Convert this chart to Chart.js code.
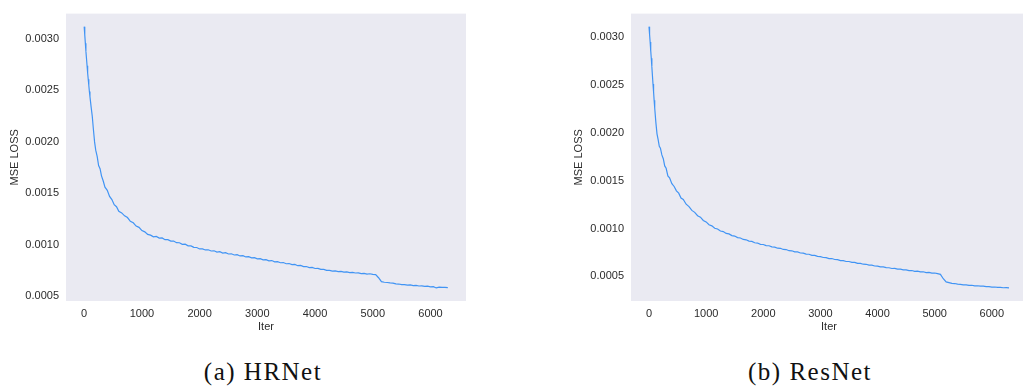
<!DOCTYPE html>
<html>
<head>
<meta charset="utf-8">
<script src="https://cdn.jsdelivr.net/npm/chart.js@4.4.1/dist/chart.umd.min.js"></script>
<style>
  html, body { margin: 0; padding: 0; background: #ffffff; width: 1023px; height: 392px; overflow: hidden; }
  .panel { position: absolute; top: 0; }
  .caption {
    position: absolute; top: 357px; width: 300px; text-align: center;
    font-family: 'Liberation Serif', 'Times New Roman', serif; font-size: 25px;
    letter-spacing: 1.5px; line-height: 30px; color: #111111;
  }
</style>
</head>
<body>
<div class="panel" style="left:0px"><canvas id="hrnet" width="490" height="340"></canvas></div>
<div class="panel" style="left:560px"><canvas id="resnet" width="480" height="340"></canvas></div>
<div class="caption" style="left:113px">(a) HRNet</div>
<div class="caption" style="left:660px">(b) ResNet</div>
<script>
// Training iterations at which the loss was logged
const iters = [
  0, 10, 20, 30, 40, 50, 60, 70, 80, 90, 100, 120, 140, 160, 180, 200, 225, 250, 275, 300,
  330, 360, 400, 440, 480, 520, 560, 600,
  650, 700, 750, 800, 850, 900, 950, 1000,
  1050, 1100, 1150, 1200, 1250, 1300, 1350, 1400, 1450, 1500,
  1550, 1600, 1650, 1700, 1750, 1800, 1850, 1900, 1950, 2000,
  2050, 2100, 2150, 2200, 2250, 2300, 2350, 2400, 2450, 2500,
  2550, 2600, 2650, 2700, 2750, 2800, 2850, 2900, 2950, 3000,
  3050, 3100, 3150, 3200, 3250, 3300, 3350, 3400, 3450, 3500,
  3550, 3600, 3650, 3700, 3750, 3800, 3850, 3900, 3950, 4000,
  4050, 4100, 4150, 4200, 4250, 4300, 4350, 4400, 4450, 4500,
  4550, 4600, 4650, 4700, 4750, 4800, 4850, 4900, 4950, 5000,
  5050, 5100, 5150, 5200, 5250, 5300, 5350, 5400, 5450, 5500,
  5550, 5600, 5650, 5700, 5750, 5800, 5850, 5900, 5950, 6000,
  6050, 6100, 6150, 6200, 6250, 6300
];

// MSE loss of the HRNet model
const lossHRNet = [
  0.00312, 0.00304, 0.00296, 0.00288, 0.00281, 0.00274, 0.00267, 0.00261, 0.00255, 0.00249,
  0.00244, 0.00234, 0.00225, 0.00212, 0.00200, 0.00192, 0.00186, 0.00177, 0.00174, 0.00167,
  0.00162, 0.00156, 0.00153, 0.00147, 0.00144, 0.00139, 0.00137, 0.001325,
  0.00131, 0.001282, 0.001265, 0.001228, 0.001214, 0.001182, 0.00117, 0.001138,
  0.001126, 0.001101, 0.001094, 0.001078, 0.001082, 0.001066, 0.001067, 0.00105, 0.00105, 0.001036,
  0.001037, 0.001021, 0.00102, 0.001005, 0.001006, 0.00099, 0.00099, 0.000975, 0.000974, 0.00096,
  0.00096, 0.00095, 0.000952, 0.00094, 0.000942, 0.00093, 0.000933, 0.00092, 0.000924, 0.000911,
  0.000913, 0.000901, 0.000904, 0.000892, 0.000894, 0.000882, 0.000885, 0.000873, 0.000875, 0.000863,
  0.000866, 0.000854, 0.000856, 0.000844, 0.000847, 0.000835, 0.000836, 0.000826, 0.000828, 0.000816,
  0.000818, 0.000807, 0.000809, 0.000797, 0.0008, 0.000788, 0.000789, 0.000779, 0.00078, 0.00077,
  0.000771, 0.000761, 0.000761, 0.000752, 0.000751, 0.000744, 0.000747, 0.00074, 0.000742, 0.000735,
  0.000737, 0.00073, 0.000733, 0.000726, 0.000728, 0.000721, 0.000723, 0.000716, 0.000719, 0.000712,
  0.000711, 0.00068, 0.000642, 0.000636, 0.000634, 0.00063, 0.000627, 0.00062, 0.000619, 0.000614,
  0.000614, 0.000608, 0.00061, 0.000604, 0.000605, 0.0006, 0.000601, 0.000596, 0.000598, 0.000592,
  0.000593, 0.000581, 0.000589, 0.000586, 0.000587, 0.000584
];

// MSE loss of the ResNet model
const lossResNet = [
  0.00311, 0.00303, 0.00295, 0.00286, 0.00278, 0.00269, 0.0026, 0.00251, 0.00243, 0.00234,
  0.00226, 0.00211, 0.00199, 0.00193, 0.00186, 0.00184, 0.00177, 0.00173, 0.001655, 0.00163,
  0.00155, 0.00153, 0.00147, 0.00144, 0.001395, 0.00137, 0.00132, 0.001305,
  0.001255, 0.00123, 0.00119, 0.00117, 0.001135, 0.00112, 0.001085, 0.00107,
  0.00104, 0.001029, 0.001004, 0.000996, 0.000975, 0.000969, 0.00095, 0.000945, 0.000927, 0.000922,
  0.000906, 0.000902, 0.000887, 0.000883, 0.000869, 0.000866, 0.000852, 0.000849, 0.000836, 0.000834,
  0.000822, 0.000821, 0.000809, 0.000807, 0.000795, 0.000794, 0.000782, 0.000781, 0.000769, 0.000768,
  0.000757, 0.000756, 0.000745, 0.000744, 0.000733, 0.000732, 0.000721, 0.00072, 0.00071, 0.000707,
  0.000698, 0.000697, 0.000687, 0.000687, 0.000677, 0.000676, 0.000666, 0.000666, 0.000656, 0.000656,
  0.000647, 0.000647, 0.000637, 0.000637, 0.000628, 0.000627, 0.000618, 0.000618, 0.000609, 0.000608,
  0.0006, 0.0006, 0.000592, 0.000591, 0.000583, 0.000584, 0.000576, 0.000576, 0.000569, 0.000569,
  0.000561, 0.000562, 0.000554, 0.000555, 0.000547, 0.000549, 0.000541, 0.000542, 0.000535, 0.000536,
  0.000529, 0.000522, 0.000476, 0.000443, 0.000436, 0.000428, 0.000426, 0.000419, 0.000418, 0.000412,
  0.000412, 0.000407, 0.000408, 0.000402, 0.000403, 0.000398, 0.000399, 0.000393, 0.000394, 0.000389,
  0.00039, 0.000385, 0.000386, 0.000382, 0.000383, 0.00038
];

// Tick values on each axis
const iterTicks = [0, 1000, 2000, 3000, 4000, 5000, 6000];
const lossTicks = [0.0005, 0.0010, 0.0015, 0.0020, 0.0025, 0.0030];
const xTitle = 'Iter';
const yTitle = 'MSE LOSS';

const TEXT = '#2b2b2b';
const FONT = { family: "'Liberation Sans', Arial, sans-serif", size: 11 };
const LINE = '#4194f4';

// Axis limits padded by 5% on each side of the data
function padded(values) {
  const lo = Math.min(...values), hi = Math.max(...values);
  const m = (hi - lo) * 0.05;
  return [lo - m, hi + m];
}

const plotBackground = {
  id: 'plotBackground',
  beforeDraw(chart) {
    const { ctx, chartArea: { left, top, width, height } } = chart;
    ctx.save();
    ctx.fillStyle = '#eaeaf2';
    ctx.fillRect(left, top, width, height);
    ctx.restore();
  }
};

function lossChart(canvasId, losses, yAxisWidth, rightPad, titlePad) {
  const [xMin, xMax] = padded(iters);
  const [yMin, yMax] = padded(losses);
  return new Chart(document.getElementById(canvasId), {
    type: 'line',
    data: {
      datasets: [{
        data: iters.map((it, i) => ({ x: it, y: losses[i] })),
        borderColor: LINE,
        borderWidth: 1.2,
        pointRadius: 0,
        tension: 0,
        fill: false
      }]
    },
    options: {
      responsive: false,
      animation: false,
      events: [],
      layout: { padding: { top: 7, right: rightPad, bottom: 0, left: 0 } },
      plugins: { legend: { display: false }, tooltip: { enabled: false } },
      scales: {
        x: {
          type: 'linear',
          min: xMin, max: xMax,
          afterFit(scale) { scale.height = 39; },
          afterBuildTicks(scale) { scale.ticks = iterTicks.map(v => ({ value: v })); },
          grid: { display: false, drawTicks: false },
          border: { display: false },
          ticks: { padding: 6, color: TEXT, font: FONT, maxRotation: 0, autoSkip: false, callback: (v) => String(v) },
          title: { display: true, text: xTitle, color: TEXT, font: FONT, padding: { top: 0, bottom: 6 } }
        },
        y: {
          type: 'linear',
          min: yMin, max: yMax,
          afterFit(scale) { scale.width = yAxisWidth; },
          afterBuildTicks(scale) { scale.ticks = lossTicks.map(v => ({ value: v })); },
          grid: { display: false, drawTicks: false },
          border: { display: false },
          ticks: { padding: 7, color: TEXT, font: FONT, autoSkip: false, callback: (v) => v.toFixed(4) },
          title: { display: true, text: yTitle, color: TEXT, font: FONT, padding: { top: titlePad, bottom: 0 } }
        }
      }
    },
    plugins: [plotBackground]
  });
}

lossChart('hrnet', lossHRNet, 66, 24, 8);
lossChart('resnet', lossResNet, 71, 13, 12);
</script>
</body>
</html>
